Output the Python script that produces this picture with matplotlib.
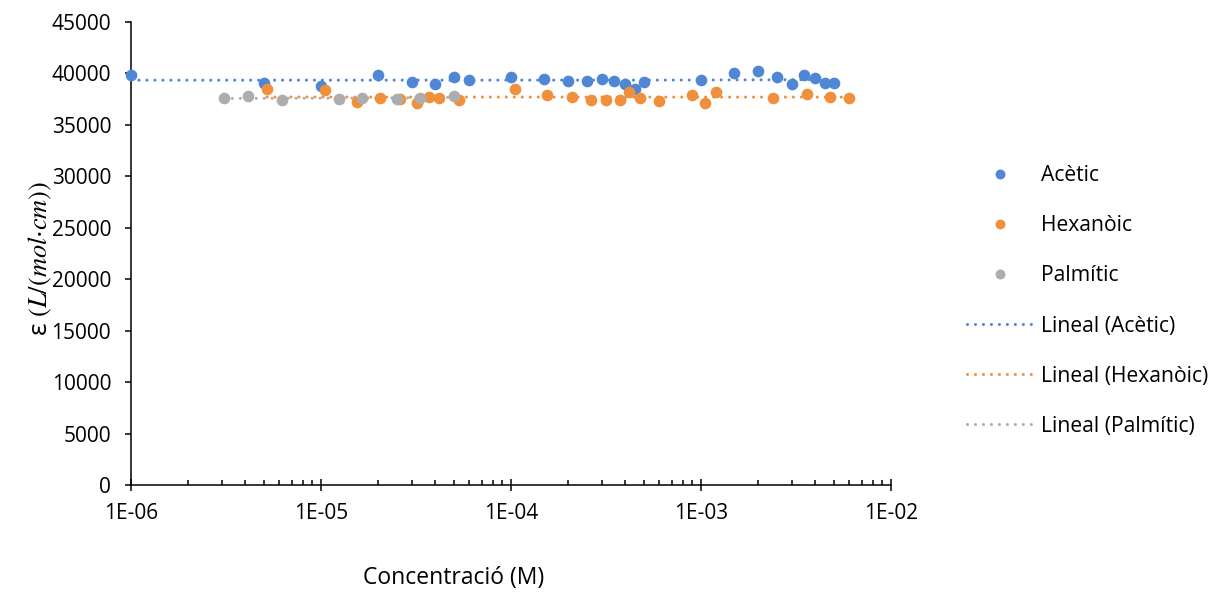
import numpy as np
import matplotlib
matplotlib.use("Agg")
import matplotlib.pyplot as plt
from matplotlib.ticker import LogLocator, FixedLocator, FuncFormatter

plt.rcParams['font.family'] = ['Open Sans', 'DejaVu Sans']
plt.rcParams['mathtext.fontset'] = 'stix'

# dades llegides del grafic
acetic_x = [1e-6, 5e-6, 1e-5, 2e-5, 3e-5, 4e-5, 5e-5, 6e-5, 1e-4, 1.5e-4, 2e-4, 2.5e-4, 3e-4,
            3.5e-4, 4e-4, 4.5e-4, 5e-4, 1e-3, 1.5e-3, 2e-3, 2.5e-3, 3e-3, 3.5e-3, 4e-3, 4.5e-3, 5e-3]
acetic_y = [39850, 39040, 38810, 39850, 39200, 38970, 39680, 39360, 39680, 39460, 39260, 39260, 39430,
            39260, 38940, 38460, 39200, 39360, 40010, 40240, 39620, 38940, 39850, 39530, 39100, 39040]

hexanoic_x = [5.2e-6, 1.05e-5, 1.55e-5, 2.05e-5, 2.6e-5, 3.2e-5, 3.7e-5, 4.2e-5, 5.3e-5, 1.05e-4,
              1.55e-4, 2.1e-4, 2.65e-4, 3.15e-4, 3.75e-4, 4.2e-4, 4.75e-4, 6e-4, 9e-4, 1.05e-3,
              1.2e-3, 2.4e-3, 3.6e-3, 4.8e-3, 6e-3]
hexanoic_y = [38490, 38390, 37250, 37610, 37500, 37100, 37740, 37580, 37420, 38460,
              37900, 37740, 37420, 37420, 37420, 38190, 37580, 37350, 37900, 37100,
              38230, 37580, 37970, 37740, 37580]

palmitic_x = [3.1e-6, 4.15e-6, 6.2e-6, 1.25e-5, 1.65e-5, 2.5e-5, 3.3e-5, 5e-5]
palmitic_y = [37580, 37840, 37450, 37520, 37640, 37490, 37580, 37780]

series = [
    ("Acètic", acetic_x, acetic_y, "#4F86D6"),
    ("Hexanòic", hexanoic_x, hexanoic_y, "#F0903C"),
    ("Palmític", palmitic_x, palmitic_y, "#ADADAD"),
]

fig = plt.figure(figsize=(12.13, 5.92), dpi=100)
ax = fig.add_axes([131 / 1213, 1 - 485 / 592, (891 - 131) / 1213, (485 - 22) / 592])

# punts
for name, xs, ys, col in series:
    ax.plot(xs, ys, 'o', color=col, markersize=8.4, markeredgewidth=0, label=name,
            clip_on=False, zorder=3)

# linies de tendencia (lineals en x)
for name, xs, ys, col in series:
    xs = np.array(xs)
    b, a = np.polyfit(xs, ys, 1)
    xt = np.geomspace(xs.min(), xs.max(), 300)
    ax.plot(xt, a + b * xt, color=col, lw=2.2, linestyle=(0, (0.01, 2.6)),
            dash_capstyle='round', label=f"Lineal ({name})", zorder=2)

ax.set_xscale('log')
ax.set_xlim(1e-6, 1e-2)
ax.set_ylim(0, 45000)
ax.set_yticks(np.arange(0, 45001, 5000))
ax.xaxis.set_major_locator(FixedLocator([1e-6, 1e-5, 1e-4, 1e-3, 1e-2]))
ax.xaxis.set_minor_locator(LogLocator(base=10, subs=np.arange(2, 10), numticks=20))
ax.xaxis.set_major_formatter(FuncFormatter(lambda v, p: "1E-%02d" % round(-np.log10(v))))

for s in ['top', 'right']:
    ax.spines[s].set_visible(False)
for s in ['left', 'bottom']:
    ax.spines[s].set_linewidth(1.1)
    ax.spines[s].set_color('black')

ax.tick_params(axis='x', which='major', direction='inout', length=8.5, width=1.1,
               pad=9, labelsize=15)
ax.tick_params(axis='x', which='minor', direction='in', length=3.6, width=1.1)
ax.tick_params(axis='y', which='major', direction='out', length=4.3, width=1.1,
               pad=10, labelsize=15)

fig.text(454 / 1213, 1 - 578 / 592, "Concentració (M)", ha='center', va='center', fontsize=16.5)
fig.text(40 / 1213, 1 - 258 / 592, r"ε $(L/(mol{\cdot}cm))$", ha='center', va='center',
         rotation=90, fontsize=19)

ax.legend(loc='center left', bbox_to_anchor=(967 / 1213, 1 - 301 / 592),
          bbox_transform=fig.transFigure, frameon=False, fontsize=15.2,
          handlelength=3.1, handletextpad=0.4, labelspacing=1.38, borderpad=0,
          borderaxespad=0, markerscale=0.85)

fig.savefig("out.png", dpi=100)
